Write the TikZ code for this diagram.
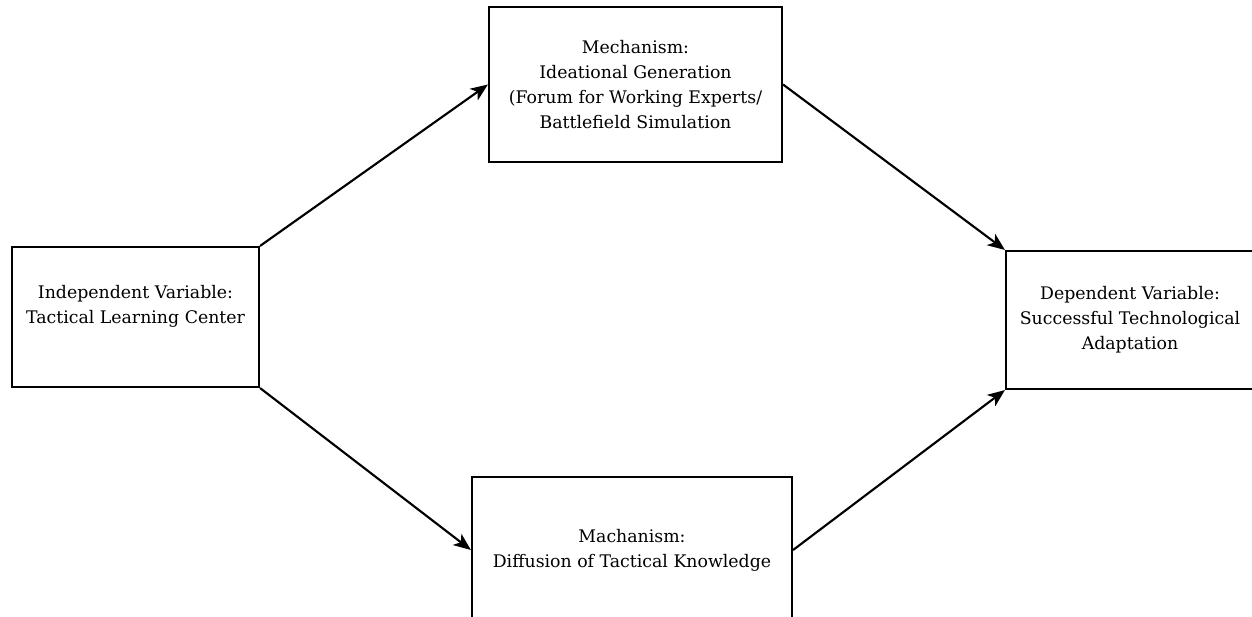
\documentclass[tikz,border=0pt]{standalone}
\usepackage{fontspec}
\setmainfont{DejaVu Serif}
\usetikzlibrary{arrows.meta}
\begin{document}
\begin{tikzpicture}[x=0.75pt,y=-0.75pt,
  box/.style={draw=black, line width=1.6pt, fill=white, align=center, inner sep=0pt,
    font=\fontsize{13pt}{18.8pt}\selectfont, text=black},
  link/.style={line width=1.6pt, -{Stealth[length=13pt,width=10.5pt,inset=3.5pt]}}]
\path[fill=white, use as bounding box] (0,0) rectangle (1252,617);
\node[box, minimum width=247*0.75pt, minimum height=140*0.75pt] (iv) at (135.5,317)
  {Independent Variable:\\Tactical Learning Center\\\mbox{}};
\node[box, minimum width=293*0.75pt, minimum height=155*0.75pt] (m1) at (635.5,84.5)
  {Mechanism:\\Ideational Generation\\(Forum for Working Experts/\\Battlefield Simulation};
\node[box, minimum width=320*0.75pt, minimum height=146*0.75pt] (m2) at (632,550)
  {Machanism:\\Diffusion of Tactical Knowledge};
\node[box, minimum width=248*0.75pt, minimum height=138*0.75pt] (dv) at (1130,320)
  {Dependent Variable:\\Successful Technological\\Adaptation};
\draw[link] (iv.north east) -- (m1.west);
\draw[link] (iv.south east) -- (m2.west);
\draw[link] (m1.east) -- (dv.north west);
\draw[link] (m2.east) -- (dv.south west);
\end{tikzpicture}
\end{document}
